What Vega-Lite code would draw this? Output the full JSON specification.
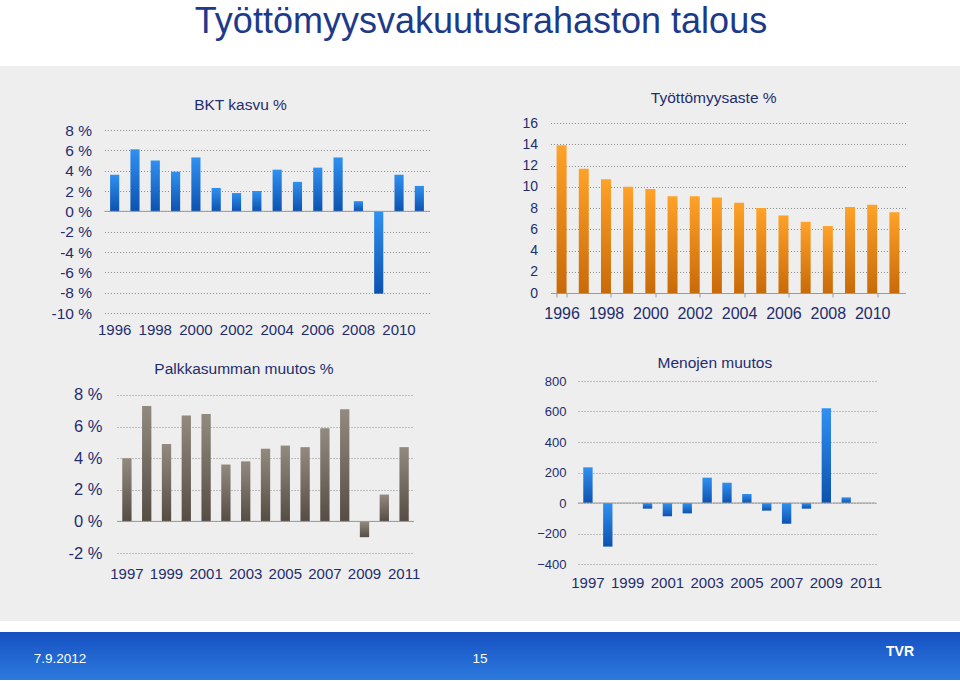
{
  "$schema": "https://vega.github.io/schema/vega-lite/v6.json",
  "background": "#eeeeee",
  "padding": 0,
  "spacing": 18,
  "center": true,
  "config": {
    "font": "Liberation Sans",
    "view": {"stroke": null},
    "axis": {
      "labelFont": "Liberation Sans",
      "labelColor": "#1f2d6e",
      "labelFontSize": 15,
      "labelOverlap": false,
      "gridColor": "#8c8c8c",
      "gridDash": [1, 2],
      "gridWidth": 1,
      "domainColor": "#9a9a9a",
      "tickColor": "#9a9a9a",
      "title": null
    },
    "title": {"font": "Liberation Sans", "fontWeight": "normal", "color": "#1f2d6e", "fontSize": 15.5, "frame": "bounds", "anchor": "middle"}
  },
  "datasets": {
    "bkt": [
      {"year": 1996, "value": 3.6}, {"year": 1997, "value": 6.1}, {"year": 1998, "value": 5.0}, {"year": 1999, "value": 3.9},
      {"year": 2000, "value": 5.3}, {"year": 2001, "value": 2.3}, {"year": 2002, "value": 1.8}, {"year": 2003, "value": 2.0},
      {"year": 2004, "value": 4.1}, {"year": 2005, "value": 2.9}, {"year": 2006, "value": 4.3}, {"year": 2007, "value": 5.3},
      {"year": 2008, "value": 1.0}, {"year": 2009, "value": -8.1}, {"year": 2010, "value": 3.6}, {"year": 2011, "value": 2.5}
    ],
    "tyo": [
      {"year": 1996, "value": 13.9}, {"year": 1997, "value": 11.7}, {"year": 1998, "value": 10.7}, {"year": 1999, "value": 10.0},
      {"year": 2000, "value": 9.8}, {"year": 2001, "value": 9.1}, {"year": 2002, "value": 9.1}, {"year": 2003, "value": 9.0},
      {"year": 2004, "value": 8.5}, {"year": 2005, "value": 8.0}, {"year": 2006, "value": 7.3}, {"year": 2007, "value": 6.7},
      {"year": 2008, "value": 6.3}, {"year": 2009, "value": 8.1}, {"year": 2010, "value": 8.3}, {"year": 2011, "value": 7.6}
    ],
    "palkka": [
      {"year": 1997, "value": 4.0}, {"year": 1998, "value": 7.3}, {"year": 1999, "value": 4.9}, {"year": 2000, "value": 6.7},
      {"year": 2001, "value": 6.8}, {"year": 2002, "value": 3.6}, {"year": 2003, "value": 3.8}, {"year": 2004, "value": 4.6},
      {"year": 2005, "value": 4.8}, {"year": 2006, "value": 4.7}, {"year": 2007, "value": 5.9}, {"year": 2008, "value": 7.1},
      {"year": 2009, "value": -1.0}, {"year": 2010, "value": 1.7}, {"year": 2011, "value": 4.7}
    ],
    "menot": [
      {"year": 1997, "value": 234}, {"year": 1998, "value": -286}, {"year": 1999, "value": 0}, {"year": 2000, "value": -37},
      {"year": 2001, "value": -87}, {"year": 2002, "value": -68}, {"year": 2003, "value": 166}, {"year": 2004, "value": 133},
      {"year": 2005, "value": 59}, {"year": 2006, "value": -50}, {"year": 2007, "value": -136}, {"year": 2008, "value": -37},
      {"year": 2009, "value": 621}, {"year": 2010, "value": 37}, {"year": 2011, "value": null}
    ],
    "footer": [
      {"slot": "a", "label": "7.9.2012"}, {"slot": "b", "label": "15"}, {"slot": "c", "label": "TVR"}
    ]
  },
  "vconcat": [
    {
      "width": 1010,
      "height": 72,
      "view": {"stroke": null, "fill": {"gradient": "linear", "x1": 0, "y1": 0, "x2": 0, "y2": 1, "stops": [
        {"offset": 0, "color": "#ffffff"}, {"offset": 0.9167, "color": "#ffffff"}, {"offset": 0.9167, "color": "#eeeeee"}, {"offset": 1, "color": "#eeeeee"}]}},
      "data": {"values": [{"text": "Työttömyysvakuutusrahaston talous"}]},
      "mark": {"type": "text", "fontSize": 36, "color": "#1d3a8a", "dy": -14, "dx": -24, "font": "Liberation Sans"},
      "encoding": {"text": {"field": "text"}}
    },
    {
      "spacing": 91,
      "hconcat": [
        {
          "width": 325,
          "height": 190,
          "title": {"text": "BKT kasvu %", "offset": 10},
          "data": {"name": "bkt"},
          "layer": [
            {
              "mark": {"type": "bar", "color": {"gradient": "linear", "x1": 0, "y1": 0, "x2": 0, "y2": 1, "stops": [{"offset": 0, "color": "#3090f0"}, {"offset": 1, "color": "#0c52b0"}]}},
              "encoding": {
                "x": {"field": "year", "type": "ordinal", "scale": {"paddingInner": 0.55, "paddingOuter": 0.275},
                  "axis": {"values": [1996, 1998, 2000, 2002, 2004, 2006, 2008, 2010], "labelAngle": 0, "domain": false, "ticks": false, "labelPadding": 9}},
                "y": {"field": "value", "type": "quantitative", "scale": {"domain": [-10, 8.69], "nice": false},
                  "axis": {"values": [-10, -8, -6, -4, -2, 0, 2, 4, 6, 8], "tickCount": 20, "domain": false, "ticks": false, "labelPadding": 13, "labelFontSize": 15.5, "labelExpr": "datum.value + ' %'"}},
                "y2": {"datum": 0}
              }
            },
            {
              "data": {"values": [{}]},
              "mark": {"type": "rule", "color": "#9a9a9a"},
              "encoding": {"y": {"datum": 0}}
            }
          ]
        },
        {
          "width": 355,
          "height": 170,
          "title": {"text": "Työttömyysaste %", "offset": 10},
          "data": {"name": "tyo"},
          "mark": {"type": "bar", "color": {"gradient": "linear", "x1": 0, "y1": 0, "x2": 0, "y2": 1, "stops": [{"offset": 0, "color": "#ffa228"}, {"offset": 1, "color": "#c86a08"}]}},
          "encoding": {
            "x": {"field": "year", "type": "ordinal", "scale": {"paddingInner": 0.55, "paddingOuter": 0.275},
              "axis": {"values": [1996, 1998, 2000, 2002, 2004, 2006, 2008, 2010], "labelAngle": 0, "domain": true, "ticks": true, "tickBand": "extent", "tickSize": 4, "labelPadding": 8, "labelFontSize": 16}},
            "y": {"field": "value", "type": "quantitative", "scale": {"domain": [0, 16], "nice": false},
              "axis": {"values": [0, 2, 4, 6, 8, 10, 12, 14, 16], "tickCount": 20, "domain": false, "ticks": false, "labelPadding": 13, "labelFontSize": 14}}
          }
        }
      ]
    },
    {
      "spacing": 116,
      "hconcat": [
        {
          "width": 297,
          "height": 172,
          "title": {"text": "Palkkasumman muutos %", "offset": 4},
          "data": {"name": "palkka"},
          "layer": [
            {
              "mark": {"type": "bar", "color": {"gradient": "linear", "x1": 0, "y1": 0, "x2": 0, "y2": 1, "stops": [{"offset": 0, "color": "#938a7f"}, {"offset": 1, "color": "#554d44"}]}},
              "encoding": {
                "x": {"field": "year", "type": "ordinal", "scale": {"paddingInner": 0.53, "paddingOuter": 0.265},
                  "axis": {"values": [1997, 1999, 2001, 2003, 2005, 2007, 2009, 2011], "labelAngle": 0, "domain": false, "ticks": false, "labelPadding": 13}},
                "y": {"field": "value", "type": "quantitative", "scale": {"domain": [-2, 8.886], "nice": false},
                  "axis": {"values": [-2, 0, 2, 4, 6, 8], "tickCount": 20, "domain": false, "ticks": false, "labelPadding": 15, "labelFontSize": 16.5, "labelExpr": "datum.value + ' %'"}},
                "y2": {"datum": 0}
              }
            },
            {
              "data": {"values": [{}]},
              "mark": {"type": "rule", "color": "#9a9a9a"},
              "encoding": {"y": {"datum": 0}}
            }
          ]
        },
        {
          "width": 298,
          "height": 183,
          "title": {"text": "Menojen muutos", "offset": 4},
          "data": {"name": "menot"},
          "resolve": {"axis": {"y": "independent"}},
          "layer": [
            {
              "mark": {"type": "bar", "color": {"gradient": "linear", "x1": 0, "y1": 0, "x2": 0, "y2": 1, "stops": [{"offset": 0, "color": "#3090f0"}, {"offset": 1, "color": "#0c52b0"}]}},
              "encoding": {
                "x": {"field": "year", "type": "ordinal", "scale": {"domain": [1997, 1998, 1999, 2000, 2001, 2002, 2003, 2004, 2005, 2006, 2007, 2008, 2009, 2010, 2011], "paddingInner": 0.53, "paddingOuter": 0.265},
                  "axis": {"values": [1997, 1999, 2001, 2003, 2005, 2007, 2009, 2011], "labelAngle": 0, "domain": false, "ticks": false, "labelPadding": 11}},
                "y": {"field": "value", "type": "quantitative", "scale": {"domain": [-400, 800], "nice": false},
                  "axis": {"values": [-400, -200, 0, 200, 400, 600, 800], "tickCount": 20, "domain": false, "ticks": false, "labelPadding": 12, "labelFontSize": 13}},
                "y2": {"datum": 0}
              }
            },
            {
              "data": {"values": [{}]},
              "mark": {"type": "rule", "color": "#9a9a9a"},
              "encoding": {"y": {"datum": 0, "axis": {"orient": "right", "labels": false, "ticks": false, "domain": false, "grid": false, "minExtent": 17, "maxExtent": 17}}}
            }
          ]
        }
      ]
    },
    {
      "width": 1010,
      "height": 72,
      "view": {"stroke": null, "fill": {"gradient": "linear", "x1": 0, "y1": 0, "x2": 0, "y2": 1, "stops": [
        {"offset": 0, "color": "#eeeeee"}, {"offset": 0.18, "color": "#eeeeee"}, {"offset": 0.18, "color": "#ffffff"}, {"offset": 0.333, "color": "#ffffff"},
        {"offset": 0.333, "color": "#1650c2"}, {"offset": 1, "color": "#2c7ade"}]}},
      "data": {"name": "footer"},
      "encoding": {
        "x": {"field": "slot", "type": "nominal", "scale": {"type": "point", "padding": 0.2024, "align": 0.353, "domain": ["a", "b", "c"]}, "axis": null},
        "text": {"field": "label"}
      },
      "layer": [
        {
          "transform": [{"filter": "datum.slot != 'c'"}],
          "mark": {"type": "text", "font": "Liberation Sans", "fontSize": 13.5, "color": "#ffffff", "dy": 15}
        },
        {
          "transform": [{"filter": "datum.slot == 'c'"}],
          "mark": {"type": "text", "font": "Liberation Sans", "fontWeight": "bold", "fontSize": 14, "color": "#ffffff", "dy": 8}
        }
      ]
    }
  ]
}
